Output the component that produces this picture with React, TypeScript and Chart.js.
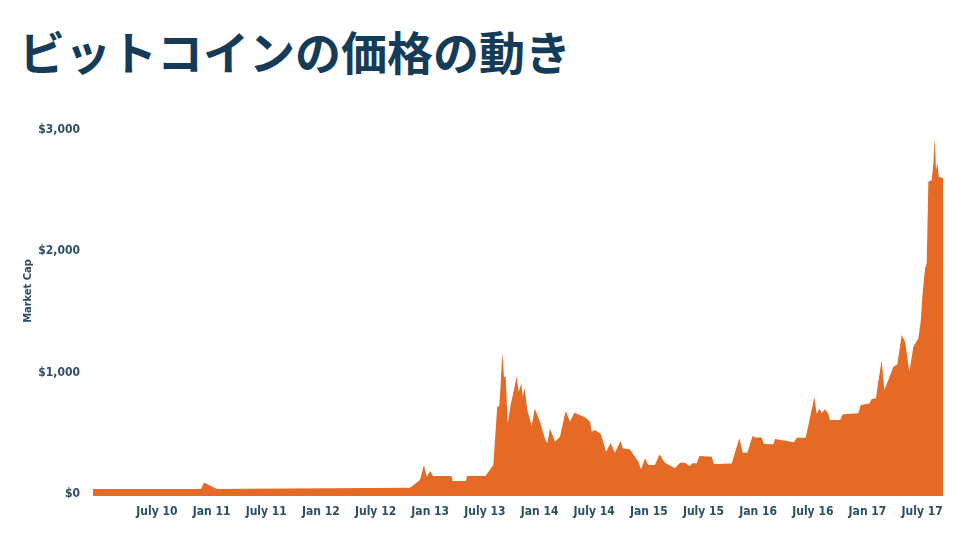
import React, { useEffect, useRef } from "react";
import { Chart, registerables } from "chart.js";

Chart.register(...registerables);

// Time as decimal year, value in USD
const dates: number[] = [
  2009.915, 2010.903, 2010.930, 2011.049, 2011.323, 2012.083, 2012.815, 2012.906, 2012.943, 2012.968,
  2012.998, 2013.025, 2013.196, 2013.205, 2013.327, 2013.336, 2013.505, 2013.577, 2013.613, 2013.632,
  2013.645, 2013.659, 2013.675, 2013.690, 2013.709, 2013.739, 2013.766, 2013.791, 2013.809, 2013.833,
  2013.846, 2013.864, 2013.888, 2013.928, 2013.956, 2014.004, 2014.053, 2014.071, 2014.096, 2014.141,
  2014.187, 2014.239, 2014.279, 2014.318, 2014.416, 2014.462, 2014.477, 2014.507, 2014.562, 2014.608,
  2014.651, 2014.690, 2014.742, 2014.761, 2014.828, 2014.873, 2014.904, 2014.928, 2014.965, 2014.995,
  2015.056, 2015.096, 2015.148, 2015.239, 2015.285, 2015.331, 2015.370, 2015.401, 2015.438, 2015.462,
  2015.575, 2015.596, 2015.758, 2015.828, 2015.859, 2015.901, 2015.950, 2015.971, 2016.032, 2016.054,
  2016.139, 2016.154, 2016.328, 2016.353, 2016.435, 2016.514, 2016.536, 2016.560, 2016.581, 2016.612,
  2016.642, 2016.657, 2016.749, 2016.774, 2016.916, 2016.938, 2017.017, 2017.039, 2017.078, 2017.090,
  2017.130, 2017.154, 2017.191, 2017.237, 2017.273, 2017.313, 2017.344, 2017.383, 2017.420, 2017.465,
  2017.487, 2017.502, 2017.527, 2017.542, 2017.557, 2017.588, 2017.603, 2017.615, 2017.627, 2017.639,
  2017.652, 2017.691,
];

const prices: number[] = [
  41, 41, 96, 41, 44, 47, 52, 115, 239, 143,
  190, 148, 148, 107, 107, 148, 148, 239, 719, 725,
  917, 1164, 967, 964, 583, 750, 857, 967, 843, 912,
  802, 871, 692, 560, 706, 596, 445, 418, 541, 431,
  472, 686, 596, 670, 632, 596, 513, 527, 494, 349,
  418, 340, 439, 377, 368, 307, 266, 204, 294, 239,
  239, 327, 258, 212, 258, 258, 231, 253, 253, 313,
  307, 247, 251, 459, 340, 340, 480, 467, 467, 412,
  410, 453, 426, 464, 464, 797, 659, 706, 665, 698,
  659, 610, 610, 657, 665, 733, 747, 783, 789, 871,
  1104, 857, 939, 1049, 1067, 1310, 1255, 1008, 1214, 1281,
  1420, 1626, 1860, 1901, 2574, 2588, 2725, 2931, 2670, 2730,
  2615, 2602,
];

const tickPositions: number[] = [2010.5, 2011, 2011.5, 2012, 2012.5, 2013, 2013.5, 2014, 2014.5, 2015, 2015.5, 2016, 2016.5, 2017, 2017.5];
const tickLabels: string[] = [
  "July 10", "Jan 11", "July 11", "Jan 12", "July 12", "Jan 13", "July 13",
  "Jan 14", "July 14", "Jan 15", "July 15", "Jan 16", "July 16", "Jan 17", "July 17",
];
const yTicks: number[] = [0, 1000, 2000, 3000];

const TITLE = "ビットコインの価格の動き";
const Y_TITLE = "Market Cap";
const ORANGE = "#E56A26";
const AXIS_COLOR = "#2c4e66";
const TITLE_COLOR = "#143c58";
const AXIS_FONT = "'DejaVu Sans Condensed', 'Liberation Sans Narrow', sans-serif";

export default function App() {
  const canvasRef = useRef<HTMLCanvasElement | null>(null);

  useEffect(() => {
    if (!canvasRef.current) return;
    const yTitlePlugin = {
      id: "yTitlePlugin",
      afterDraw(chart: any) {
        const ctx = chart.ctx;
        const area = chart.chartArea;
        ctx.save();
        ctx.translate(28, area.top + (area.bottom - area.top) * 0.44);
        ctx.rotate(-Math.PI / 2);
        ctx.font = `bold 11px ${AXIS_FONT}`;
        ctx.fillStyle = AXIS_COLOR;
        ctx.textAlign = "center";
        ctx.textBaseline = "middle";
        ctx.fillText(Y_TITLE, 0, 0);
        ctx.restore();
      },
    };

    const chart = new Chart(canvasRef.current, {
      type: "line",
      data: {
        datasets: [
          {
            data: dates.map((d, i) => ({ x: d, y: prices[i] })),
            borderWidth: 0,
            borderColor: ORANGE,
            backgroundColor: ORANGE,
            fill: "start",
            pointRadius: 0,
            tension: 0,
          },
        ],
      },
      options: {
        animation: false,
        responsive: true,
        maintainAspectRatio: false,
        layout: { padding: { top: 130, right: 17, left: 0, bottom: 0 } },
        plugins: {
          legend: { display: false },
          tooltip: { enabled: false },
          title: { display: false },
        },
        scales: {
          x: {
            type: "linear",
            min: dates[0],
            max: dates[dates.length - 1],
            grid: { display: false, drawTicks: false },
            border: { display: false },
            afterBuildTicks: (scale: any) => {
              scale.ticks = tickPositions.map((v) => ({ value: v }));
            },
            afterFit: (scale: any) => {
              scale.height = 44;
            },
            ticks: {
              autoSkip: false,
              maxRotation: 0,
              padding: 9,
              color: AXIS_COLOR,
              font: { family: AXIS_FONT, size: 12, weight: "bold" },
              callback: (_v: any, i: number) => tickLabels[i],
            },
          },
          y: {
            type: "linear",
            min: -16,
            max: 3000,
            grid: { display: false, drawTicks: false },
            border: { display: false },
            afterBuildTicks: (scale: any) => {
              scale.ticks = yTicks.map((v) => ({ value: v }));
            },
            afterFit: (scale: any) => {
              scale.width = 93;
            },
            ticks: {
              padding: 13,
              color: AXIS_COLOR,
              font: { family: AXIS_FONT, size: 12, weight: "bold" },
              callback: (v: any) => "$" + Number(v).toLocaleString("en-US"),
            },
          },
        },
      },
      plugins: [yTitlePlugin],
    } as any);
    return () => chart.destroy();
  }, []);

  return (
    <div style={{ position: "absolute", left: 0, top: 0, width: 960, height: 540, background: "#ffffff" }}>
      <div
        style={{
          position: "absolute",
          left: 19,
          top: 27,
          fontFamily: "'Noto Sans CJK JP', 'Noto Sans CJK SC', sans-serif",
          fontWeight: 700,
          fontSize: 46,
          lineHeight: "46px",
          color: TITLE_COLOR,
          whiteSpace: "nowrap",
        }}
      >
        {TITLE}
      </div>
      <div style={{ position: "absolute", left: 0, top: 0, width: 960, height: 540 }}>
        <canvas ref={canvasRef} />
      </div>
    </div>
  );
}
